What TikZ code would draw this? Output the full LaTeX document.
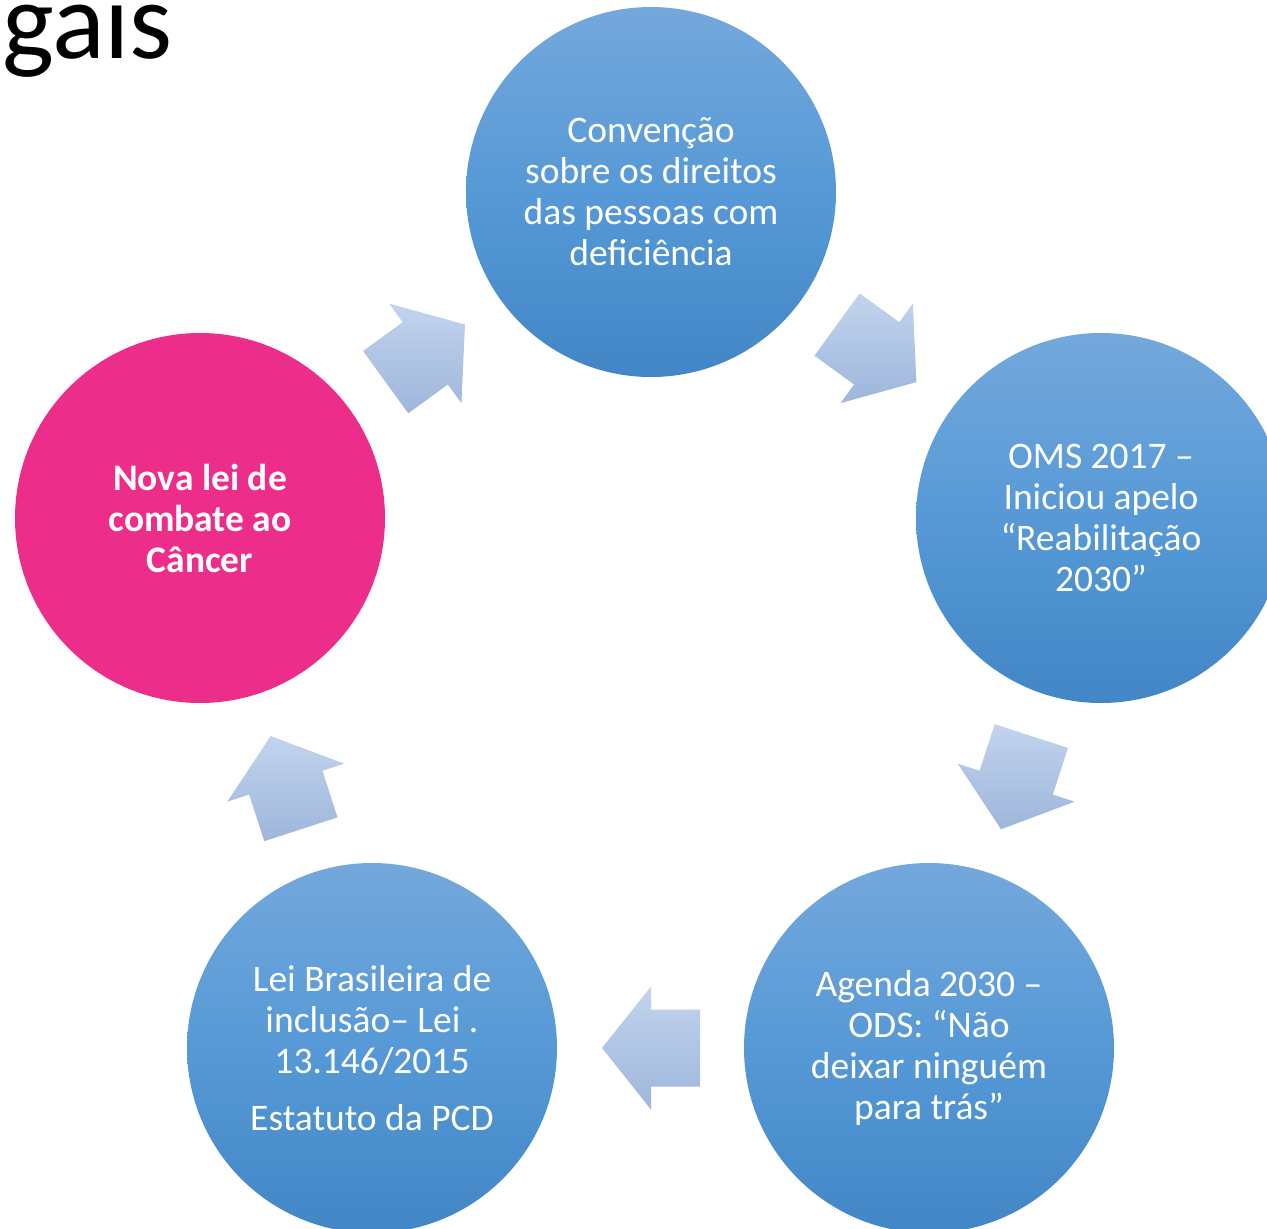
\documentclass[tikz,border=0pt]{standalone}
\usepackage{fontspec}
\setmainfont{Carlito}
\usetikzlibrary{calc}
\definecolor{circtop}{HTML}{74A8DC}
\definecolor{circmid}{HTML}{5699D6}
\definecolor{circbot}{HTML}{4286C6}
\definecolor{pinkfill}{HTML}{EC2E8A}
\definecolor{arrtop}{HTML}{C2D4EE}
\definecolor{arrbot}{HTML}{9DB6DB}
\newcommand\mycyclearrow[3]{%
  \coordinate (#1) at ($(cc)+(#2:384)$);
  \shade[arrowfill] ($(#1)+(#3:49)$) -- ($(#1)+(#3+90:61.5)$) -- ($(#1)+(#3+90:38.5)$)
    -- ($(#1)+(#3+90:38.5)+(#3+180:49)$) -- ($(#1)+(#3-90:38.5)+(#3+180:49)$)
    -- ($(#1)+(#3-90:38.5)$) -- ($(#1)+(#3-90:61.5)$) -- cycle;
}
\begin{document}
\begin{tikzpicture}[x=1pt,y=-1pt,
  stage/.style={circle, minimum size=370pt, inner sep=0pt, text=white, align=center,
    font=\fontsize{37.5}{41}\selectfont},
  bluestage/.style={stage, top color=circtop, bottom color=circbot, middle color=circmid},
  pinkstage/.style={stage, fill=pinkfill, font=\fontsize{37.5}{41}\selectfont\bfseries},
  arrowfill/.style={top color=arrtop, bottom color=arrbot, draw=none}]
\path[use as bounding box] (0,0) rectangle (1267,1229);
\clip (0,0) rectangle (1267,1229);
\fill[white] (0,0) rectangle (1267,1229);
\coordinate (cc) at (651,664);
\node[anchor=base west, inner sep=0pt, font=\fontsize{110}{112}\selectfont] (title) at (2,58) {gais};
\node[bluestage] (top) at (651,192) {Convenção\\sobre os direitos\\das pessoas com\\deficiência};
\node[bluestage] (right) at (1101,518) {OMS 2017 –\\Iniciou apelo\\“Reabilitação\\2030”};
\node[bluestage] (bright) at (929,1048) {Agenda 2030 –\\ODS: “Não\\deixar ninguém\\para trás”};
\node[bluestage] (bleft) at (372,1048) {Lei Brasileira de\\inclusão– Lei .\\13.146/2015\\[16pt]Estatuto da PCD};
\node[pinkstage] (left) at (200,518) {Nova lei de\\combate ao\\Câncer};
\mycyclearrow{a1}{-126}{-36}
\mycyclearrow{a2}{-54}{36}
\mycyclearrow{a3}{18}{108}
\mycyclearrow{a4}{90}{180}
\mycyclearrow{a5}{162}{-108}
\end{tikzpicture}
\end{document}
